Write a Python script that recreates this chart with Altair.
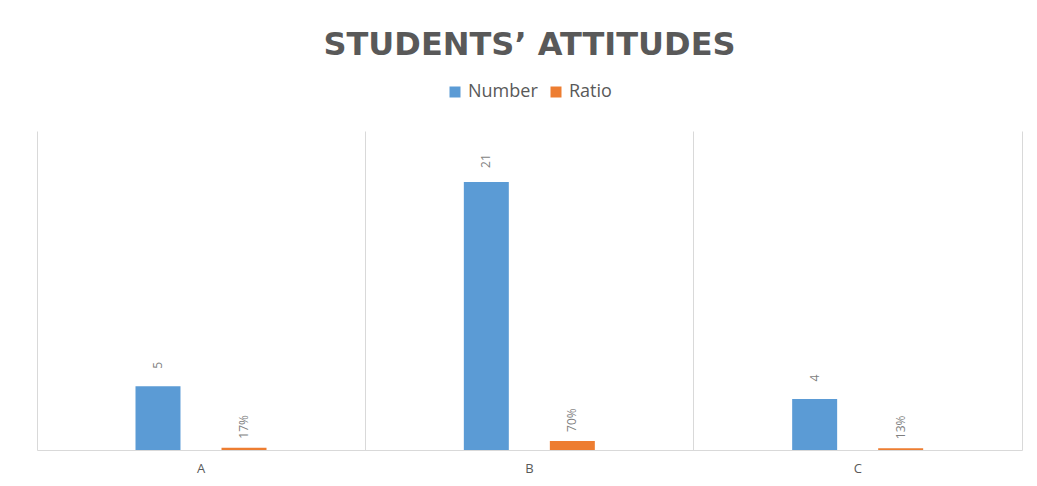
import altair as alt
import pandas as pd

categories = ["A", "B", "C"]
number_values = [5, 21, 4]
ratio_values = [0.17, 0.70, 0.13]
ratio_labels = ["17%", "70%", "13%"]
series_names = ["Number", "Ratio"]
colors = ["#5B9BD5", "#ED7D31"]

rows = []
for c, n, r, rl in zip(categories, number_values, ratio_values, ratio_labels):
    rows.append({"cat": c, "series": "Number", "value": n, "label": str(n)})
    rows.append({"cat": c, "series": "Ratio", "value": r, "label": rl})
df = pd.DataFrame(rows)

x = alt.X("cat:N", title=None,
          scale=alt.Scale(paddingInner=0, paddingOuter=0),
          axis=alt.Axis(labelAngle=0, labelFontSize=13, labelColor="#595959",
                        labelFont="Open Sans", labelPadding=12, ticks=False,
                        domainColor="#D9D9D9", grid=True, gridColor="#D9D9D9",
                        bandPosition=0))
xo = alt.XOffset("series:N", sort=series_names,
                 scale=alt.Scale(paddingInner=0.477, paddingOuter=0,
                                 range=[98.5, 229.5]))
y = alt.Y("value:Q", title=None, scale=alt.Scale(domain=[0, 25]),
          axis=alt.Axis(orient="right", labels=False, ticks=False, grid=False,
                        domain=True, domainColor="#D9D9D9"))

base = alt.Chart(df).encode(x=x, xOffset=xo, y=y)

bars = base.mark_bar().encode(
    color=alt.Color("series:N", sort=series_names,
                    scale=alt.Scale(domain=series_names, range=colors),
                    legend=alt.Legend(title=None, orient="none", direction="horizontal",
                                      legendX=409, legendY=-48,
                                      symbolType="square", symbolSize=121,
                                      labelFontSize=18, labelColor="#595959",
                                      labelFont="Open Sans", columnPadding=9,
                                      labelOffset=4, symbolStrokeWidth=0))
)

labels = base.mark_text(angle=270, align="center", baseline="middle", dx=21,
                        fontSize=12, color="#7F7F7F", font="Open Sans").encode(
    text="label:N"
)

chart = alt.layer(bars, labels).properties(
    width=985, height=319,
    background="white",
    title=alt.TitleParams("STUDENTS’ ATTITUDES", fontSize=32, font="DejaVu Sans",
                          fontWeight="bold", color="#595959", anchor="middle",
                          offset=21),
    padding={"left": 37, "top": 131, "right": 15, "bottom": 36},
    autosize=alt.AutoSizeParams(type="none"),
).configure_view(stroke="transparent", strokeWidth=0)

chart.save("out.html", embed_options={"renderer": "svg", "actions": False})
